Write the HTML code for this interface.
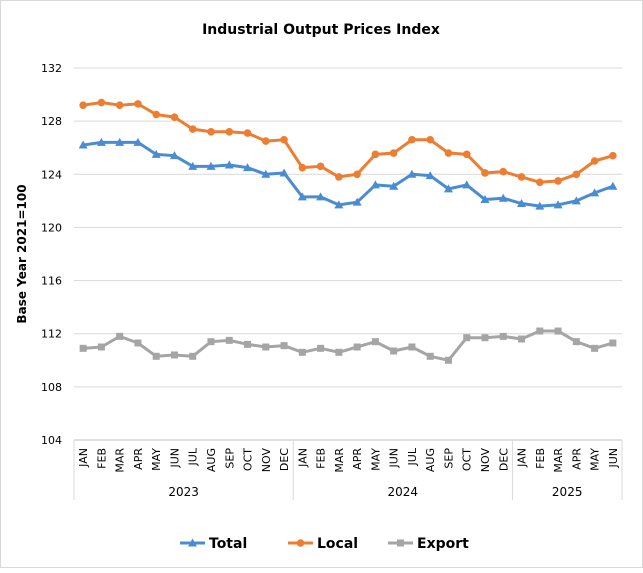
<!DOCTYPE html>
<html><head><meta charset="utf-8"><style>
body{margin:0;background:#fff;font-family:"Liberation Sans",Verdana,sans-serif}
svg text{font-family:"DejaVu Sans","Liberation Sans",sans-serif}
</style></head><body>
<svg id="c" width="643" height="568" xmlns="http://www.w3.org/2000/svg">
<rect x="0.5" y="0.5" width="642" height="567" fill="#fff" stroke="#d9d9d9"/>
<text x="321" y="34" text-anchor="middle" font-size="14" font-weight="bold" fill="#000">Industrial Output Prices Index</text>
<text transform="translate(26,254) rotate(-90)" text-anchor="middle" font-size="12" font-weight="bold">Base Year 2021=100</text>
<g id="grid"></g><g id="xa"></g><g id="series"></g><g id="legend"></g>
</svg>
<script>
const months=["JAN","FEB","MAR","APR","MAY","JUN","JUL","AUG","SEP","OCT","NOV","DEC","JAN","FEB","MAR","APR","MAY","JUN","JUL","AUG","SEP","OCT","NOV","DEC","JAN","FEB","MAR","APR","MAY","JUN"];
const years=["2023","2024","2025"];
const yearCounts=[12,12,6];
const yTicks=[104,108,112,116,120,124,128,132];
const total=[126.2,126.4,126.4,126.4,125.5,125.4,124.6,124.6,124.7,124.5,124.0,124.1,122.3,122.3,121.7,121.9,123.2,123.1,124.0,123.9,122.9,123.2,122.1,122.2,121.8,121.6,121.7,122.0,122.6,123.1];
const local=[129.2,129.4,129.2,129.3,128.5,128.3,127.4,127.2,127.2,127.1,126.5,126.6,124.5,124.6,123.8,124.0,125.5,125.6,126.6,126.6,125.6,125.5,124.1,124.2,123.8,123.4,123.5,124.0,125.0,125.4];
const exportS=[110.9,111.0,111.8,111.3,110.3,110.4,110.3,111.4,111.5,111.2,111.0,111.1,110.6,110.9,110.6,111.0,111.4,110.7,111.0,110.3,110.0,111.7,111.7,111.8,111.6,112.2,112.2,111.4,110.9,111.3];
const NS="http://www.w3.org/2000/svg";
const L=74,R=622,T=68,B=440,ymin=104,ymax=132;
const cw=(R-L)/months.length;
const x=i=>L+cw*(i+0.5);
const y=v=>B-(v-ymin)/(ymax-ymin)*(B-T);
function mk(t,a,p){const e=document.createElementNS(NS,t);for(const k in a)e.setAttribute(k,a[k]);p.appendChild(e);return e;}
const g=document.getElementById('grid');
yTicks.forEach(v=>{
 const ln=mk('line',{x1:L,x2:R,y1:y(v),y2:y(v),stroke:v===ymin?'#bfbfbf':'#d9d9d9'},g);
 
 
 const t=mk('text',{x:L-12,y:y(v)+4,'text-anchor':'end','font-size':11},g);t.textContent=v;
 
 
});
const xa=document.getElementById('xa');
months.forEach((m,i)=>{
 const t=mk('text',{transform:`translate(${x(i)+4},${B+8}) rotate(-90)`,'text-anchor':'end','font-size':11},xa);t.textContent=m;
 
 
});
let acc=0;
const bnds=[0];yearCounts.forEach(c=>{acc+=c;bnds.push(acc);});
bnds.forEach(b=>{const ln=mk('line',{x1:L+b*cw,x2:L+b*cw,y1:B,y2:500,stroke:'#d9d9d9'},xa);
 
 });
years.forEach((yr,k)=>{const t=mk('text',{x:L+(bnds[k]+bnds[k+1])/2*cw,y:496,'text-anchor':'middle','font-size':12},xa);t.textContent=yr;
 
 });
const S=document.getElementById('series');
function marker(type,cx,cy,col,p){
 if(type==='tri')return mk('path',{d:`M${cx},${cy-4.5}L${cx+4.5},${cy+3.5}L${cx-4.5},${cy+3.5}Z`,fill:col},p);
 if(type==='circ')return mk('circle',{cx,cy,r:3.8,fill:col},p);
 return mk('rect',{x:cx-3.5,y:cy-3.5,width:7,height:7,fill:col},p);
}
[[total,'#4a8cd2','tri','total'],[local,'#ed7d31','circ','local'],[exportS,'#a5a5a5','sq','export']].forEach(([d,col,mt,nm])=>{
 const gg=mk('g',{},S);
 
 
 const pl=mk('polyline',{points:d.map((v,i)=>x(i)+','+y(v)).join(' '),fill:'none',stroke:col,'stroke-width':3,'stroke-linejoin':'round'},gg);
 
 
 d.forEach((v,i)=>{const m=marker(mt,x(i),y(v),col,gg);
  
  });
});
const lg=document.getElementById('legend');
[['Total','#4a8cd2','tri',180],['Local','#ed7d31','circ',288],['Export','#a5a5a5','sq',388]].forEach(([n,col,mt,lx])=>{
 const gg=mk('g',{},lg);
 
 
 mk('line',{x1:lx,x2:lx+25,y1:543,y2:543,stroke:col,'stroke-width':3},gg);
 marker(mt,lx+12.5,543,col,gg);
 const t=mk('text',{x:lx+29,y:548,'font-size':14,'font-weight':'bold'},gg);t.textContent=n;
});
</script>
</body></html>
